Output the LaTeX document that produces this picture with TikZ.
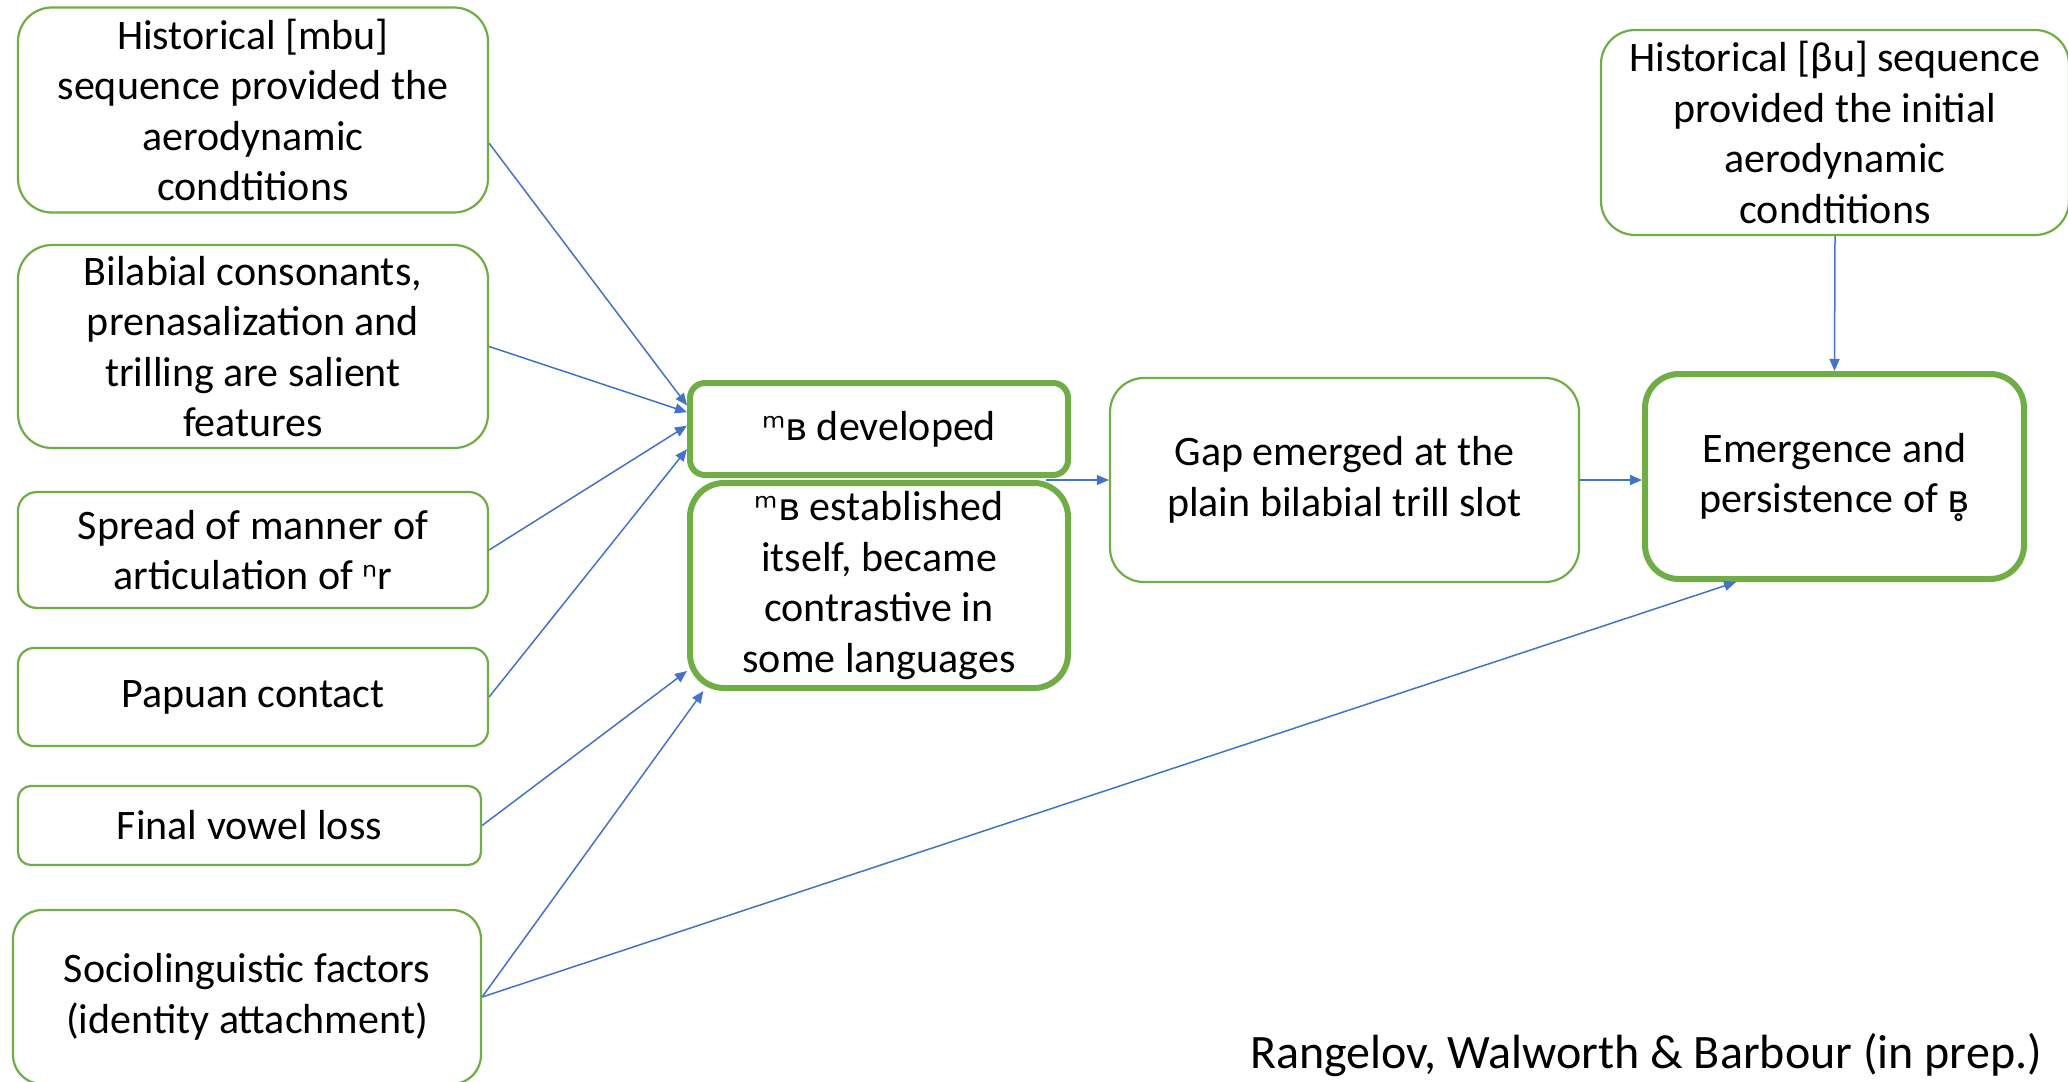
\documentclass[tikz,border=0pt]{standalone}
\usepackage{fontspec}
\setmainfont{Carlito}
\newfontfamily\ipafont[Scale=0.9]{DejaVu Sans}
\usetikzlibrary{arrows.meta}
\definecolor{bordergreen}{HTML}{70AD47}
\definecolor{arrowblue}{HTML}{4472C4}
\tikzset{
  box/.style={draw=bordergreen, line width=2.2pt, fill=white, align=center, inner sep=0pt,
    font=\fontsize{42}{50.5}\selectfont},
  keybox/.style={box, line width=6pt},
  conn/.style={draw=arrowblue, line width=1.5pt, -{Triangle[length=12pt,width=10pt]}},
}
\begin{document}
\begin{tikzpicture}[x=1pt,y=-1pt]
\useasboundingbox (0,0) rectangle (2068,1081);
\fill[white] (0,0) rectangle (2068,1081);

% left column
\node[box, minimum width=470pt, minimum height=205pt, rounded corners=34pt] (h1) at (253,110)
  {Historical [mbu]\\sequence provided the\\aerodynamic\\condtitions};
\node[box, minimum width=470pt, minimum height=203pt, rounded corners=34pt] (h2) at (253,346.5)
  {Bilabial consonants,\\prenasalization and\\trilling are salient\\features};
\node[box, minimum width=470pt, minimum height=116pt, rounded corners=19pt] (h3) at (253,550)
  {Spread of manner of\\articulation of {\ipafont ⁿ}r};
\node[box, minimum width=470pt, minimum height=98pt, rounded corners=16pt] (h4) at (253,697)
  {Papuan contact};
\node[box, minimum width=463pt, minimum height=79pt, rounded corners=13pt] (h5) at (249.5,825.5)
  {Final vowel loss};
\node[box, minimum width=468pt, minimum height=174pt, rounded corners=29pt] (h6) at (247,997)
  {Sociolinguistic factors\\(identity attachment)};

% middle
\node[keybox, minimum width=378pt, minimum height=92pt, rounded corners=15pt] (dev) at (879,429)
  {{\ipafont ᵐʙ} developed};
\node[keybox, minimum width=378pt, minimum height=205pt, rounded corners=34pt] (est) at (879,585.5)
  {{\ipafont ᵐʙ} established\\itself, became\\contrastive in\\some languages};
\node[box, minimum width=469pt, minimum height=204pt, rounded corners=34pt] (gap) at (1344.5,480)
  {Gap emerged at the\\plain bilabial trill slot};

% right
\node[keybox, minimum width=379pt, minimum height=205pt, rounded corners=34pt] (emg) at (1834.5,476.5)
  {Emergence and\\persistence of \smash{\ipafont ʙ̥}};
\node[box, minimum width=468pt, minimum height=205pt, rounded corners=34pt] (hb) at (1835,132.5)
  {Historical [βu] sequence\\provided the initial\\aerodynamic\\condtitions};

\node[font=\fontsize{48}{56}\selectfont, inner sep=0pt] (cite) at (1646,1055)
  {Rangelov, Walworth \& Barbour (in prep.)};

\coordinate (join) at (1046,480);

% connectors
\draw[conn] (h1.-8.6) -- (dev.173);
\draw[conn] (h2.east) -- (dev.175.8);
\draw[conn] (h3.east) -- (dev.179.1);
\draw[conn] (h4.east) -- (dev.186.3);
\draw[conn] (h5.east) -- (est.204.1);
\draw[conn] (h6.east) -- (est.211);
\draw[conn] (h6.east) -- (emg.227.6);
\draw[conn] (join) -- (join -| gap.west);
\draw[conn] (gap.east) -- (gap.east -| emg.west);
\draw[conn] (hb.south) -- (emg.north);
\end{tikzpicture}
\end{document}
